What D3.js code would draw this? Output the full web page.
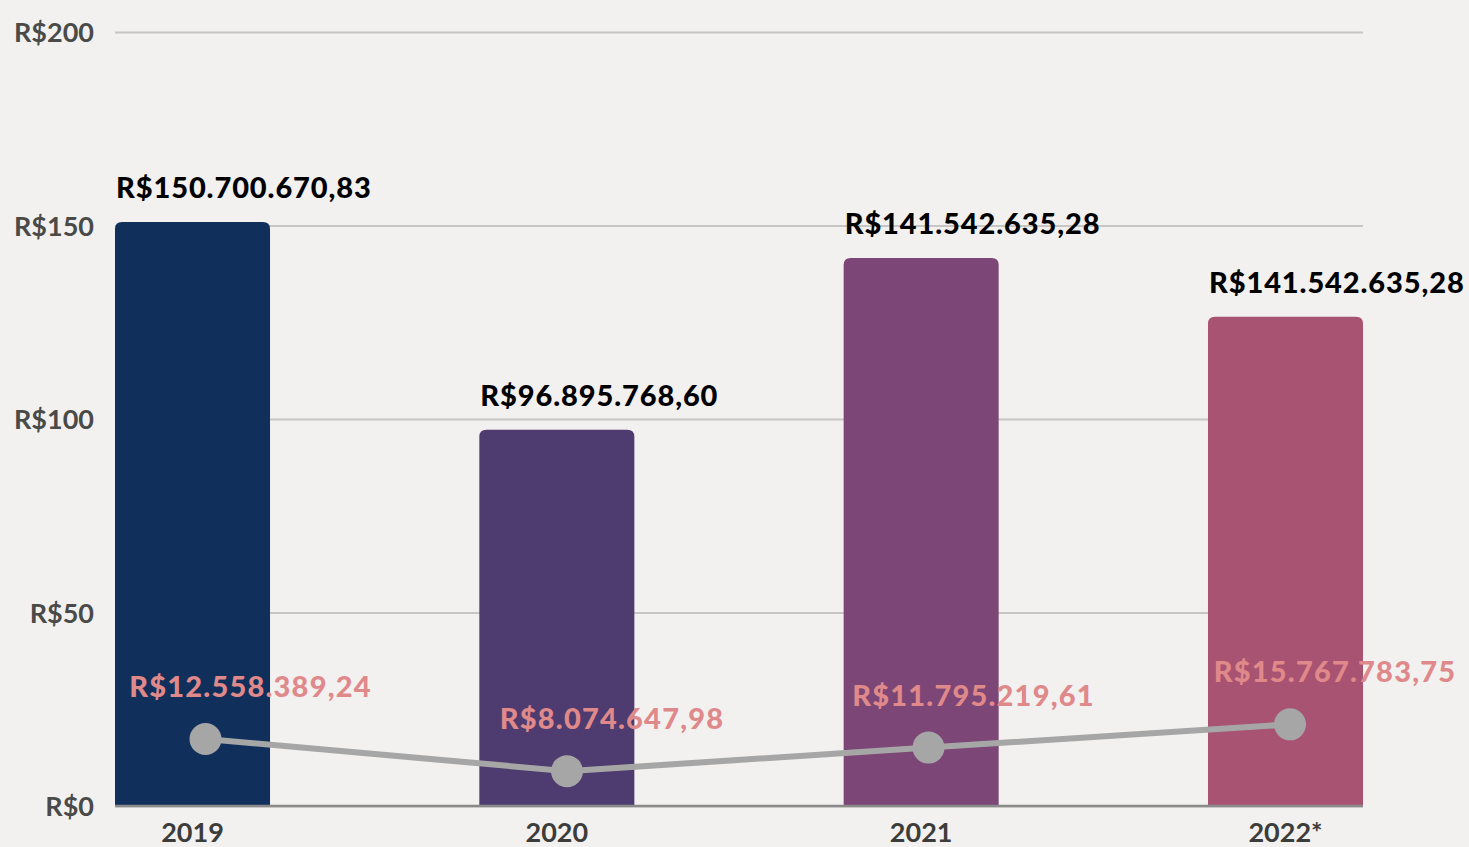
<!DOCTYPE html>
<html>
<head>
<meta charset="utf-8">
<script src="https://cdn.jsdelivr.net/npm/d3@7"></script>
<style>
  html, body { margin: 0; padding: 0; background: #f2f1f0; overflow: hidden; }
  svg { display: block; font-family: Lato, "Open Sans", sans-serif; }
</style>
</head>
<body>
<svg id="chart" width="1469" height="847"></svg>
<script>
// data (values in R$ milhões)
const years = ["2019", "2020", "2021", "2022*"];
const barValues = [150.9, 97.2, 141.6, 126.4];
const barLabels = ["R$150.700.670,83", "R$96.895.768,60", "R$141.542.635,28", "R$141.542.635,28"];
const lineValues = [17.3, 9.0, 15.1, 21.1];
const lineLabels = ["R$12.558.389,24", "R$8.074.647,98", "R$11.795.219,61", "R$15.767.783,75"];
const yTicks = [0, 50, 100, 150, 200];
const barColors = ["#10305b", "#4e3b6f", "#7c4677", "#a85372"];

const data = years.map((y, i) => ({
  year: y,
  bar: barValues[i],
  barLabel: barLabels[i],
  line: lineValues[i],
  lineLabel: lineLabels[i],
  color: barColors[i],
}));

let svg = d3.select("#chart"),
  margin = { top: 32, right: 106, bottom: 41, left: 115 },
  width = svg.attr("width") - margin.left - margin.right,
  height = svg.attr("height") - margin.top - margin.bottom;

let g = svg
  .append("g")
  .attr("transform", "translate(" + margin.left + "," + margin.top + ")");

let xScale = d3.scaleBand().domain(years).range([0, width]).paddingInner(0.5745).paddingOuter(0),
  yScale = d3.scaleLinear().domain([0, 200]).range([height, 0]);

// line points sit a bit off the bar centres in the original
let xLine = d3.scalePoint().domain(years).range([90.5, 1175]);

// gridlines + y labels
let yAxis = g.append("g")
  .call(d3.axisLeft(yScale).tickValues(yTicks).tickSize(-width).tickFormat(d => "R$" + d));
yAxis.select(".domain").remove();
yAxis.selectAll(".tick line").attr("stroke", "#c8c6c4").attr("stroke-width", 2);
yAxis.selectAll(".tick text")
  .attr("x", -21)
  .attr("dy", "0.36em")
  .attr("fill", "#4a4a48")
  .attr("font-size", "27px")
  .attr("font-weight", 700)
  .attr("font-family", "Lato, sans-serif");

// bars with rounded tops
const r = 7;
g.selectAll(".bar")
  .data(data)
  .enter()
  .append("path")
  .attr("class", "bar")
  .attr("fill", d => d.color)
  .attr("d", function (d) {
    const x0 = xScale(d.year), x1 = x0 + xScale.bandwidth();
    const y0 = yScale(d.bar), y1 = yScale(0);
    return `M${x0},${y1}V${y0 + r}Q${x0},${y0} ${x0 + r},${y0}H${x1 - r}Q${x1},${y0} ${x1},${y0 + r}V${y1}Z`;
  });

// x axis baseline
g.append("line")
  .attr("x1", 0)
  .attr("x2", width)
  .attr("y1", yScale(0))
  .attr("y2", yScale(0))
  .attr("stroke", "#8a8a8a")
  .attr("stroke-width", 2.5);

// year labels (cut by the bottom edge in the original too)
g.selectAll(".year")
  .data(data)
  .enter()
  .append("text")
  .attr("class", "year")
  .attr("x", d => xScale(d.year) + xScale.bandwidth() / 2)
  .attr("y", yScale(0) + 36)
  .attr("text-anchor", "middle")
  .attr("fill", "#3c3c3a")
  .attr("font-size", "27px")
  .attr("font-weight", 700)
  .text(d => d.year);

// bar value labels
g.selectAll(".nums")
  .data(data)
  .enter()
  .append("text")
  .attr("class", "nums")
  .attr("x", d => xScale(d.year) + 1)
  .attr("y", d => yScale(d.bar) - 24)
  .attr("fill", "#000")
  .attr("font-size", "29px")
  .attr("font-weight", 900)
  .attr("letter-spacing", "0.9px")
  .text(d => d.barLabel);

// pink line labels
g.selectAll(".lineLabel")
  .data(data)
  .enter()
  .append("text")
  .attr("class", "lineLabel")
  .attr("x", d => xLine(d.year) + 45)
  .attr("y", d => yScale(d.line) - 42)
  .attr("text-anchor", "middle")
  .attr("fill", "#e0898a")
  .attr("font-size", "29px")
  .attr("font-weight", 900)
  .attr("letter-spacing", "1.2px")
  .text(d => d.lineLabel);

// gray line + markers
g.append("path")
  .datum(data)
  .attr("fill", "none")
  .attr("stroke", "#a6a6a6")
  .attr("stroke-width", 6)
  .attr("d", d3.line().x(d => xLine(d.year)).y(d => yScale(d.line)));

g.selectAll(".dot")
  .data(data)
  .enter()
  .append("circle")
  .attr("class", "dot")
  .attr("cx", d => xLine(d.year))
  .attr("cy", d => yScale(d.line))
  .attr("r", 16)
  .attr("fill", "#a6a6a6");
</script>
</body>
</html>
